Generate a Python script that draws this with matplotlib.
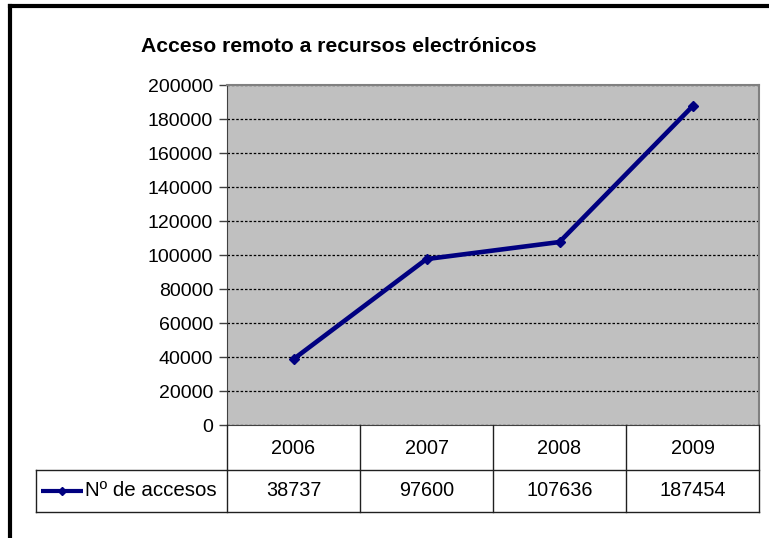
import matplotlib.pyplot as plt
import numpy as np
from matplotlib.lines import Line2D

plt.rcParams['font.family'] = ['Liberation Sans', 'DejaVu Sans']

title = 'Acceso remoto a recursos electrónicos'
years = ['2006', '2007', '2008', '2009']
accesos = [38737, 97600, 107636, 187454]
series_name = 'Nº de accesos'

W, H = 769, 538
fig = plt.figure(figsize=(W / 100, H / 100), dpi=100)

# plot area in pixels: left 227, right 759, top 85, bottom 425
def fx(px):
    return px / W

def fy(py):
    return 1 - py / H

ax = fig.add_axes([fx(227), fy(425), fx(759) - fx(227), fy(85) - fy(425)])
ax.set_facecolor('#C0C0C0')
x = np.arange(len(years))
ax.plot(x, accesos, color='#000080', lw=3.3, marker='D', ms=5, zorder=3)
ax.set_xlim(-0.5, len(years) - 0.5)
ax.set_ylim(0, 200000)
ax.set_yticks(np.arange(0, 200001, 20000))
ax.tick_params(axis='y', labelsize=14, length=6, width=1, color='#404040', pad=4)
ax.set_xticks([])
ax.grid(axis='y', color='black', ls=(0, (2, 1.5)), lw=0.9)
ax.set_axisbelow(True)
for s in ['top', 'right']:
    ax.spines[s].set_color('#808080')
    ax.spines[s].set_linewidth(1.5)
ax.spines['left'].set_color('#404040')
ax.spines['bottom'].set_color('#404040')

# overlay for outer frame and the data table (pixel coords)
ov = fig.add_axes([0, 0, 1, 1], facecolor='none')
ov.set_xlim(0, W)
ov.set_ylim(H, 0)
ov.axis('off')

ov.add_line(Line2D([10, 10], [6, H], color='black', lw=3))
ov.add_line(Line2D([10, W], [6, 6], color='black', lw=3))

ov.text(141, 47, title, fontsize=15.2, fontweight='bold', va='center', ha='left')

cols = [227, 360, 493, 626, 759]
lc = '#202020'
ov.add_line(Line2D([227, 759], [470, 470], color=lc, lw=1))
ov.add_line(Line2D([36, 759], [512, 512], color=lc, lw=1))
ov.add_line(Line2D([36, 227], [470, 470], color=lc, lw=1))
ov.add_line(Line2D([36, 36], [470, 512], color=lc, lw=1))
for c in cols:
    ov.add_line(Line2D([c, c], [425, 512], color=lc, lw=1))
for i, (yr, v) in enumerate(zip(years, accesos)):
    cx = (cols[i] + cols[i + 1]) / 2
    ov.text(cx, 448, yr, fontsize=14.3, ha='center', va='center')
    ov.text(cx, 491, str(v), fontsize=14.3, ha='center', va='center')

ov.add_line(Line2D([41, 62, 83], [491, 491, 491], color='#000080', lw=3,
                   marker='D', ms=4, markevery=[1], solid_capstyle='butt'))
ov.text(85, 491, series_name, fontsize=14.8, ha='left', va='center')

fig.savefig('out.png', dpi=100)
